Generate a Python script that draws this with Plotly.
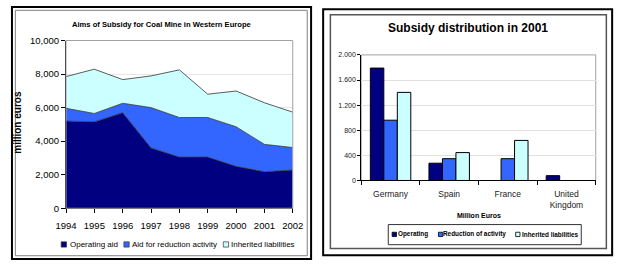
import plotly.graph_objects as go

W, H = 627, 266

# ---------------- data ----------------
years = [1994, 1995, 1996, 1997, 1998, 1999, 2000, 2001, 2002]
operating_aid = [5200, 5150, 5700, 3600, 3050, 3050, 2500, 2180, 2280]
reduction_aid = [760, 500, 560, 2400, 2360, 2360, 2360, 1630, 1340]
inherited_liab = [1890, 2640, 1410, 1890, 2840, 1390, 2130, 2480, 2110]
area_names = ["Operating aid", "Aid for reduction activity", "Inherited liabilities"]

countries = ["Germany", "Spain", "France", "United<br>Kingdom"]
op_2001 = [1790, 275, None, 77]
red_2001 = [960, 347, 347, None]
inh_2001 = [1403, 444, 638, None]
bar_names = ["Operating", "Reduction of activity", "Inherited liabilities"]

y1_ticks = [0, 2000, 4000, 6000, 8000, 10000]
y2_ticks = [0, 400, 800, 1200, 1600, 2000]
y2_ticktext = ["0", "400", "800", "1.200", "1.600", "2.000"]

colors = ["#000080", "#3366FF", "#CCFFFF"]

ARIAL = "Liberation Sans, Arial, sans-serif"


def px(x):
    return x / W


def py(y):
    return 1 - y / H


fig = go.Figure()

for name, vals, col in zip(area_names, [operating_aid, reduction_aid, inherited_liab], colors):
    fig.add_trace(go.Scatter(
        x=years, y=vals, name=name, stackgroup="one", mode="lines",
        line=dict(color="#333333", width=0.8), fillcolor=col,
        xaxis="x", yaxis="y", showlegend=False))

for name, vals, col in zip(bar_names, [op_2001, red_2001, inh_2001], colors):
    fig.add_trace(go.Bar(
        x=countries, y=vals, name=name, marker=dict(color=col, line=dict(color="black", width=1)),
        xaxis="x2", yaxis="y2", showlegend=False))

shapes = []
annotations = []

# panel borders
shapes += [
    dict(type="rect", xref="paper", yref="paper", x0=px(1), y0=py(264), x1=px(311), y1=py(1),
         line=dict(color="black", width=2)),
    dict(type="rect", xref="paper", yref="paper", x0=px(4.5), y0=py(260.5), x1=px(307), y1=py(4.5),
         line=dict(color="#808080", width=1)),
    dict(type="rect", xref="paper", yref="paper", x0=px(323.5), y0=py(260), x1=px(623), y1=py(3.5),
         line=dict(color="black", width=2)),
    dict(type="rect", xref="paper", yref="paper", x0=px(331), y0=py(253), x1=px(617), y1=py(9),
         line=dict(color="#555555", width=1.5)),
    # plot-area borders
    dict(type="rect", xref="x domain", yref="y domain", x0=0, y0=0, x1=1, y1=1,
         line=dict(color="#a0a0a0", width=1), layer="above"),
    dict(type="rect", xref="x2 domain", yref="y2 domain", x0=0, y0=0, x1=1, y1=1,
         line=dict(color="#a0a0a0", width=1), layer="below"),
    # right legend box
    dict(type="rect", xref="paper", yref="paper", x0=px(391), y0=py(249), x1=px(591), y1=py(228),
         line=dict(color="#333333", width=1)),
]

# titles
annotations += [
    dict(text="<b>Aims of Subsidy for Coal Mine in Western Europe</b>", x=px(156), y=py(19),
         xref="paper", yref="paper", showarrow=False, xanchor="center", yanchor="middle",
         font=dict(family=ARIAL, size=7.6, color="black")),
    dict(text="<b>million euros</b>", x=px(7), y=py(121), textangle=-90,
         xref="paper", yref="paper", showarrow=False, xanchor="center", yanchor="middle",
         font=dict(family=ARIAL, size=10, color="black")),
    dict(text="<b>Subsidy distribution in 2001</b>", x=px(474), y=py(23),
         xref="paper", yref="paper", showarrow=False, xanchor="center", yanchor="middle",
         font=dict(family=ARIAL, size=12, color="black")),
    dict(text="<b>Million Euros</b>", x=px(485), y=py(219),
         xref="paper", yref="paper", showarrow=False, xanchor="center", yanchor="middle",
         font=dict(family=ARIAL, size=7, color="black")),
]

# left legend (manual)
left_items = [(52, 60), (117, 124), (220, 227)]
for (sx, tx), name, col in zip(left_items, area_names, colors):
    shapes.append(dict(type="rect", xref="paper", yref="paper", x0=px(sx), x1=px(sx + 5.5),
                       y0=py(251.5), y1=py(246), fillcolor=col, line=dict(color="#333333", width=0.7)))
    annotations.append(dict(text=name, x=px(tx - 1), y=py(248.5), xref="paper", yref="paper",
                            showarrow=False, xanchor="left", yanchor="middle",
                            font=dict(family=ARIAL, size=8, color="black")))

# right legend (manual)
right_items = [(395, 400), (443, 447), (523, 528)]
for (sx, tx), name, col in zip(right_items, bar_names, colors):
    shapes.append(dict(type="rect", xref="paper", yref="paper", x0=px(sx), x1=px(sx + 4.5),
                       y0=py(240.5), y1=py(236), fillcolor=col, line=dict(color="black", width=0.8)))
    annotations.append(dict(text="<b>" + name + "</b>", x=px(tx - 1), y=py(238.3), xref="paper",
                            yref="paper", showarrow=False, xanchor="left", yanchor="middle",
                            font=dict(family=ARIAL, size=6.4, color="black")))

fig.update_layout(
    width=W, height=H, margin=dict(l=0, r=0, t=0, b=0),
    paper_bgcolor="white", plot_bgcolor="white",
    showlegend=False,
    barmode="group", bargap=0.31, bargroupgap=0,
    shapes=shapes, annotations=annotations,
    xaxis=dict(domain=[px(57), px(292)], anchor="y", range=[1994, 2002], tickvals=years,
               ticks="outside", ticklen=4, tickcolor="black", showline=True, linecolor="black",
               linewidth=1, showgrid=False, zeroline=False, ticklabelstandoff=4,
               tickfont=dict(family=ARIAL, size=9.5, color="black")),
    yaxis=dict(domain=[1 - 211 / H, 1 - 36 / H], anchor="x", range=[0, 10000], tickvals=y1_ticks,
               tickformat=",", ticks="outside", ticklen=4, tickcolor="black", showline=True,
               linecolor="black", linewidth=1, showgrid=True, gridcolor="#e6e6e6", zeroline=False,
               tickfont=dict(family=ARIAL, size=9.5, color="black")),
    xaxis2=dict(domain=[px(363), px(606)], anchor="y2", type="category", tickson="boundaries",
                ticks="outside", ticklen=4, tickcolor="black", showline=True, linecolor="black",
                linewidth=1, showgrid=False, zeroline=False, ticklabelstandoff=5,
                tickfont=dict(family=ARIAL, size=8.5, color="#222222")),
    yaxis2=dict(domain=[1 - 182 / H, 1 - 51 / H], anchor="x2", range=[0, 2000], tickvals=y2_ticks,
                ticktext=y2_ticktext, ticks="outside", ticklen=3, tickcolor="black", showline=True,
                linecolor="black", linewidth=1, showgrid=True, gridcolor="#e0e0e0", zeroline=False,
                tickfont=dict(family=ARIAL, size=7, color="#222222")),
)

fig.write_html("out.html")
